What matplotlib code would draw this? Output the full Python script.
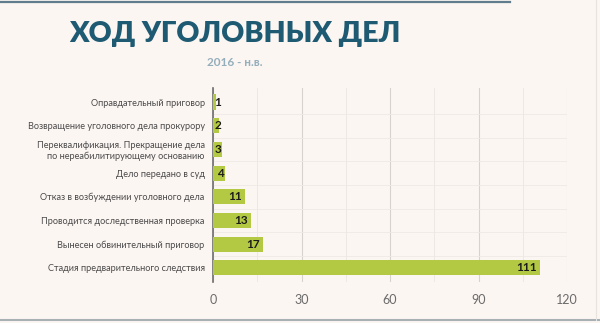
import matplotlib
matplotlib.use("Agg")
import matplotlib.pyplot as plt
from matplotlib.lines import Line2D
from matplotlib.ticker import MultipleLocator

categories = [
    "Оправдательный приговор",
    "Возвращение уголовного дела прокурору",
    "Переквалификация. Прекращение дела\nпо нереабилитирующему основанию",
    "Дело передано в суд",
    "Отказ в возбуждении уголовного дела",
    "Проводится доследственная проверка",
    "Вынесен обвинительный приговор",
    "Стадия предварительного следствия",
]
counts = [1, 2, 3, 4, 11, 13, 17, 111]
x_ticks = [0, 30, 60, 90, 120]

bg = "#fcf6f3"
bar_color = "#b3c843"

plt.rcParams["font.family"] = ["Lato", "DejaVu Sans"]

fig = plt.figure(figsize=(6, 3.23), dpi=100, facecolor=bg)
ax = fig.add_axes([0.355, 0.127, 0.59, 0.601])
ax.set_facecolor(bg)

ypos = list(range(len(categories)))
ax.barh(ypos, counts, height=0.64, color=bar_color, zorder=3)

for y, v in zip(ypos, counts):
    if v < 8:
        ax.text(v - 0.2 if v > 2 else 0.4, y, str(v), ha="right" if v > 2 else "left",
                va="center", fontsize=8.5, fontweight="bold", color="#1c1c1c", zorder=4)
    else:
        ax.text(v - 1.2, y, str(v), ha="right", va="center",
                fontsize=8.5, fontweight="bold", color="#1c1c1c", zorder=4)

ax.set_ylim(len(categories) - 0.4, -0.6)
ax.set_xlim(0, 120)
ax.set_xticks(x_ticks)
ax.xaxis.set_minor_locator(MultipleLocator(15))
ax.set_yticks(ypos)
ax.set_yticklabels(categories, fontsize=6.6, color="#4a4a4a", linespacing=1.2)
ax.set_yticks([y + 0.5 for y in ypos[:-1]], minor=True)

ax.grid(axis="x", which="major", color="#d8d2cf", linewidth=0.8, zorder=0)
ax.grid(axis="x", which="minor", color="#ece6e3", linewidth=0.6, zorder=0)
ax.grid(axis="y", which="minor", color="#efe9e6", linewidth=0.6, zorder=0)

ax.tick_params(axis="x", which="both", length=0, labelsize=9, labelcolor="#6a6a6a", pad=9)
ax.tick_params(axis="y", which="both", length=0, pad=6)
for s in ["top", "right", "bottom"]:
    ax.spines[s].set_visible(False)
ax.spines["left"].set_color("#6e6e6e")
ax.spines["left"].set_linewidth(1.2)

fig.text(0.392, 0.895, "ХОД УГОЛОВНЫХ ДЕЛ", ha="center", va="center",
         fontsize=20.5, fontweight="heavy", color="#1f5a73")
fig.text(0.392, 0.808, "2016 - н.в.", ha="center", va="center",
         fontsize=8.5, fontweight="bold", color="#94aebb")

# frame lines: top, bottom, right edge
fig.add_artist(Line2D([0, 0.85], [0.995, 0.995], transform=fig.transFigure,
                      color="#5f7d8c", linewidth=1.6))
fig.add_artist(Line2D([0, 1], [0.01, 0.01], transform=fig.transFigure,
                      color="#a7b0b3", linewidth=1.5))
fig.add_artist(Line2D([0.993, 0.993], [0.01, 1], transform=fig.transFigure,
                      color="#e8e2e0", linewidth=0.8))

fig.savefig("out.png", dpi=100, facecolor=bg)
